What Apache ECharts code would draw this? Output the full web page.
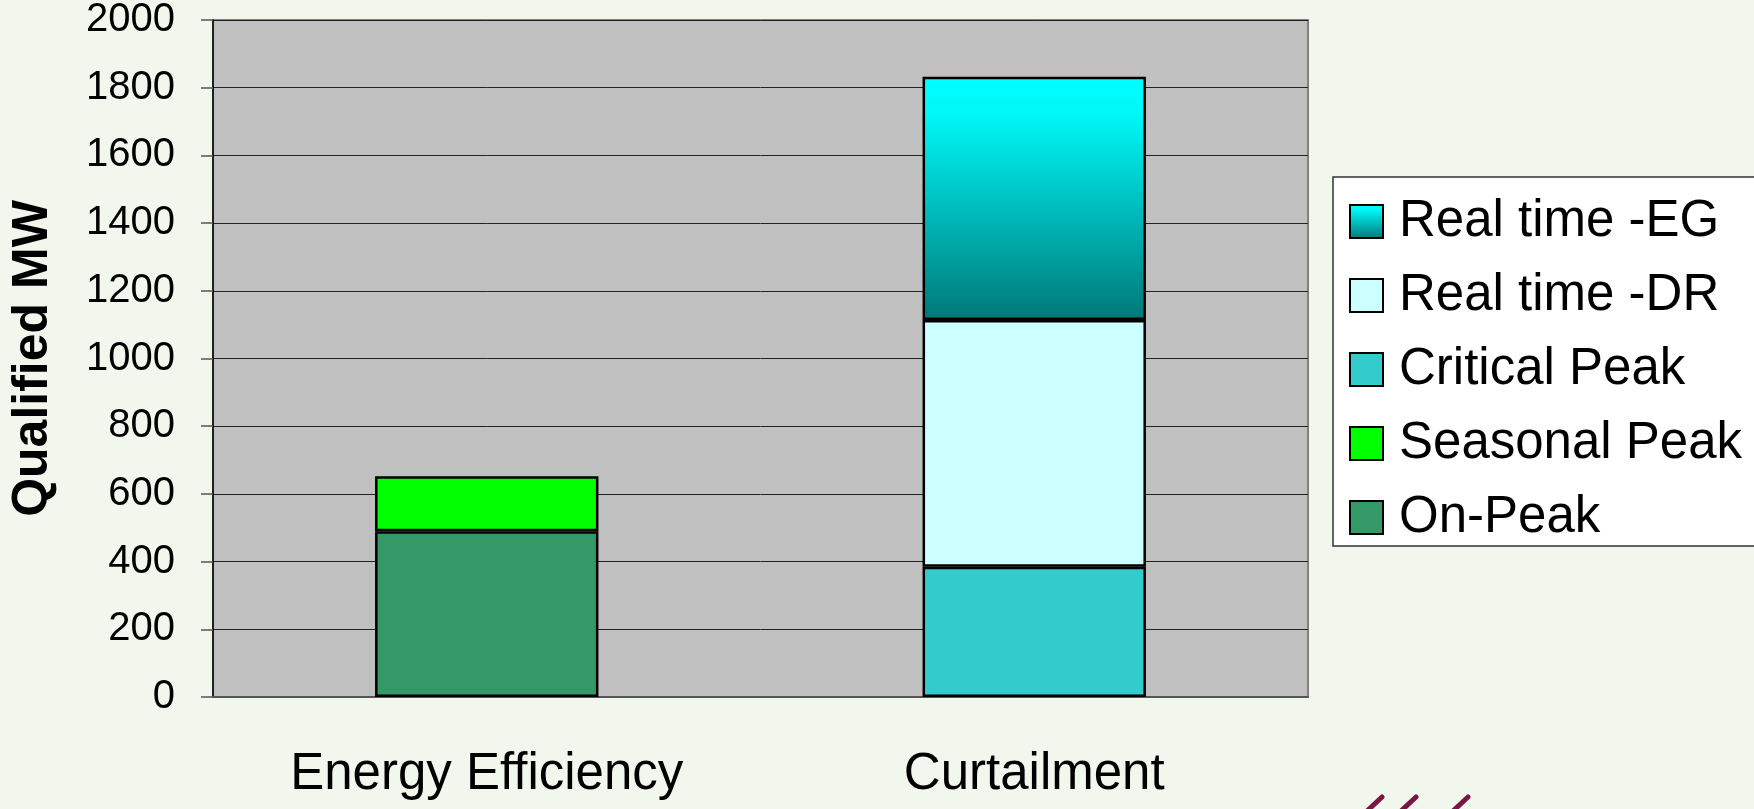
<!DOCTYPE html>
<html lang="en">

<head>
    <meta charset="UTF-8">
    <title>Qualified MW</title>
    <style>
        html, body { margin: 0; padding: 0; background: #F2F7ED; }
    </style>
</head>

<body>
    <div id="main" style="width: 1754px;height:809px;"></div>
    <script src="https://cdn.jsdelivr.net/npm/echarts@6/dist/echarts.min.js"></script>
    <script>
        var categories = ['Energy Efficiency', 'Curtailment'];
        var onPeak = [490, '-'];
        var seasonalPeak = [162, '-'];
        var criticalPeak = ['-', 385];
        var realTimeDR = ['-', 729];
        var realTimeEG = ['-', 718];
        var yTicks = { min: 0, max: 2000, step: 200 };
        var legendOrder = ['Real time -EG', 'Real time -DR', 'Critical Peak', 'Seasonal Peak', 'On-Peak'];

        var font = 'Liberation Sans, Arial, sans-serif';
        var myChart = echarts.init(document.getElementById('main'));

        function bar(name, data, color) {
            return {
                name: name,
                type: 'bar',
                stack: 'total',
                barWidth: '40.8%',
                data: data,
                itemStyle: { color: color, borderColor: '#000', borderWidth: 2.5 }
            };
        }

        var egGradient = new echarts.graphic.LinearGradient(0, 0, 0, 1, [
            { offset: 0, color: '#00FFFF' },
            { offset: 0.15, color: '#00F8F8' },
            { offset: 1, color: '#007878' }
        ]);

        option = {
            backgroundColor: '#F2F7ED',
            animation: false,
            grid: {
                left: 207, right: 446, top: 20, bottom: 112,
                show: true,
                backgroundColor: '#C0C0C0',
                borderColor: '#808080',
                borderWidth: 2
            },
            legend: {
                orient: 'vertical',
                left: 1333,
                top: 177,
                data: legendOrder,
                backgroundColor: '#FFFFFF',
                borderColor: '#333',
                borderWidth: 1.5,
                padding: [19, 20, 3, 16],
                itemWidth: 33,
                itemHeight: 33,
                itemGap: 23,
                icon: 'rect',
                textStyle: { fontFamily: font, fontSize: 51, color: '#000', padding: [0, 0, 0, 11], lineHeight: 49 }
            },
            xAxis: {
                type: 'category',
                data: categories,
                axisLine: { lineStyle: { color: '#555', width: 2 } },
                axisTick: { length: 17, lineStyle: { color: '#000', width: 1.5 } },
                axisLabel: { fontFamily: font, fontSize: 51, color: '#000', margin: 52 }
            },
            yAxis: {
                type: 'value',
                min: yTicks.min,
                max: yTicks.max,
                interval: yTicks.step,
                name: 'Qualified MW',
                nameLocation: 'middle',
                nameRotate: 90,
                nameGap: 155,
                nameTextStyle: { fontFamily: font, fontSize: 50, fontWeight: 'bold', color: '#000' },
                axisLine: { show: true, lineStyle: { color: '#000', width: 1.5 } },
                axisTick: { show: true, length: 12, lineStyle: { color: '#555', width: 1.5 } },
                axisLabel: {
                    fontFamily: font, fontSize: 40, color: '#000', margin: 38,
                    formatter: function (v) { return String(v); }
                },
                splitLine: { lineStyle: { color: '#222', width: 1 } }
            },
            series: [
                bar('On-Peak', onPeak, '#339966'),
                bar('Seasonal Peak', seasonalPeak, '#00FF00'),
                bar('Critical Peak', criticalPeak, '#33CCCC'),
                bar('Real time -DR', realTimeDR, '#CCFFFF'),
                bar('Real time -EG', realTimeEG, egGradient)
            ],
            graphic: [
                { type: 'line', shape: { x1: 1366, y1: 812, x2: 1382, y2: 797 }, style: { stroke: '#7A1545', lineWidth: 5, lineCap: 'round' } },
                { type: 'line', shape: { x1: 1400, y1: 812, x2: 1416, y2: 797 }, style: { stroke: '#7A1545', lineWidth: 5, lineCap: 'round' } },
                { type: 'line', shape: { x1: 1452, y1: 812, x2: 1468, y2: 797 }, style: { stroke: '#7A1545', lineWidth: 5, lineCap: 'round' } }
            ]
        };

        myChart.setOption(option);
    </script>
</body>

</html>
